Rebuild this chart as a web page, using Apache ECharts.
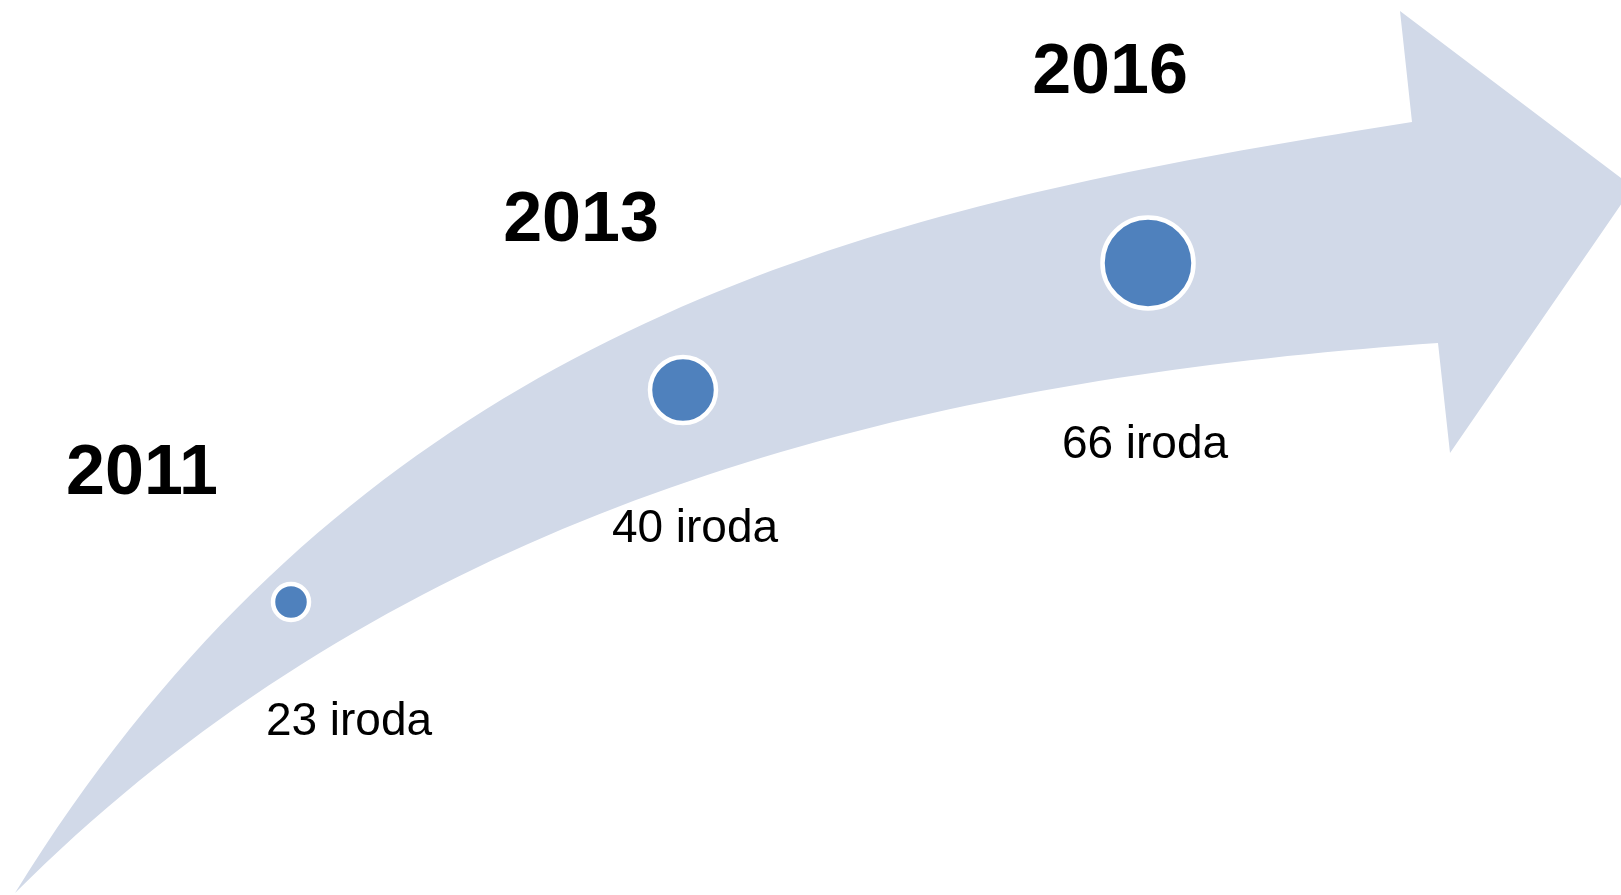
<!DOCTYPE html>
<html>
<head>
<meta charset="utf-8">
<script src="https://cdn.jsdelivr.net/npm/echarts@6/dist/echarts.min.js"></script>
<style>
  html, body { margin: 0; padding: 0; background: #fff; }
  #main { width: 1621px; height: 895px; }
</style>
</head>
<body>
<div id="main"></div>
<script>
// data
var years = ['2011', '2013', '2016'];
var offices = [23, 40, 66];
var unit = 'iroda';

// layout (pixel-like coords on a hidden 0..1621 x 0..895 grid)
var markerPos = [[291, 602], [683, 390], [1148, 263]];
var markerSize = [36, 66, 91];
var yearPos = [[142, 475], [581, 222], [1110, 74]];
var countPos = [[349, 722], [695, 529], [1145, 445]];

// arrow outline: each edge is one cubic bezier [start, ctrl1, ctrl2, end]
var arrowUpper = [[15, 893], [380, 300], [912, 202], [1412, 122]];
var arrowLower = [[15, 893], [415, 493], [938, 378], [1438, 343]];
var arrowHead = [[1400, 11], [1633, 187], [1450, 453]];

var myChart = echarts.init(document.getElementById('main'));

function bezier(c, n) {
    var out = [];
    for (var i = 0; i <= n; i++) {
        var t = i / n, u = 1 - t;
        var a = u * u * u, b = 3 * u * u * t, d = 3 * u * t * t, e = t * t * t;
        out.push([
            a * c[0][0] + b * c[1][0] + d * c[2][0] + e * c[3][0],
            a * c[0][1] + b * c[1][1] + d * c[2][1] + e * c[3][1]
        ]);
    }
    return out;
}

option = {
    backgroundColor: '#ffffff',
    animation: false,
    grid: { left: 0, right: 0, top: 0, bottom: 0 },
    xAxis: { type: 'value', min: 0, max: 1621, show: false },
    yAxis: { type: 'value', min: 0, max: 895, inverse: true, show: false },
    series: [{
        // the curved arrow
        type: 'custom',
        data: [0],
        silent: true,
        z: 1,
        renderItem: function (params, api) {
            var up = bezier(arrowUpper.map(function (p) { return api.coord(p); }), 80);
            var low = bezier(arrowLower.map(function (p) { return api.coord(p); }), 80).reverse();
            var head = arrowHead.map(function (p) { return api.coord(p); });
            return {
                type: 'polygon',
                shape: { points: up.concat(head, low) },
                style: { fill: '#d1d9e8' }
            };
        }
    }, {
        type: 'scatter',
        z: 3,
        symbol: 'circle',
        data: offices.map(function (v, i) {
            return { value: [markerPos[i][0], markerPos[i][1], v], symbolSize: markerSize[i] };
        }),
        itemStyle: { color: '#4f81bd', borderColor: '#ffffff', borderWidth: 4.5, opacity: 1 }
    }, {
        // year and count labels
        type: 'custom',
        z: 4,
        data: years.map(function (y, i) { return [i]; }),
        renderItem: function (params, api) {
            var i = params.dataIndex;
            var yp = api.coord(yearPos[i]);
            var cp = api.coord(countPos[i]);
            return {
                type: 'group',
                children: [{
                    type: 'text',
                    x: yp[0], y: yp[1],
                    style: {
                        text: years[i],
                        font: 'bold 70px "Liberation Sans", Arial, sans-serif',
                        fill: '#000000',
                        align: 'center',
                        verticalAlign: 'middle'
                    }
                }, {
                    type: 'text',
                    x: cp[0], y: cp[1],
                    style: {
                        text: offices[i] + ' ' + unit,
                        font: '46px "Liberation Sans", Arial, sans-serif',
                        fill: '#000000',
                        align: 'center',
                        verticalAlign: 'middle'
                    }
                }]
            };
        }
    }]
};

myChart.setOption(option);
</script>
</body>
</html>
